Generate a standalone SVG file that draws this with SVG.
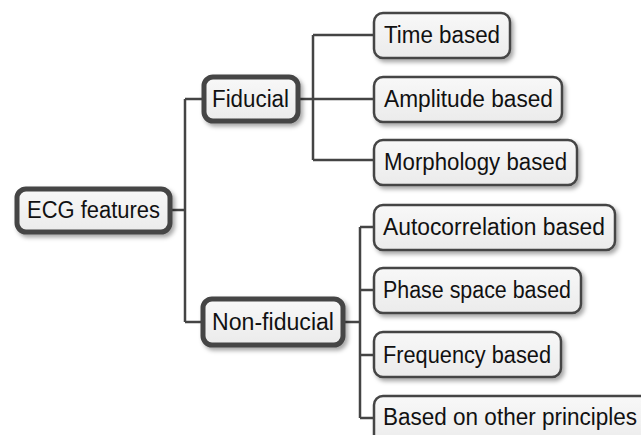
<svg xmlns="http://www.w3.org/2000/svg" width="641" height="435" viewBox="0 0 641 435">
<defs>
<linearGradient id="g" x1="0" y1="0" x2="0" y2="1">
<stop offset="0" stop-color="#f8f8f8"/>
<stop offset="1" stop-color="#ebebeb"/>
</linearGradient>
<filter id="sh" x="-10%" y="-20%" width="130%" height="160%">
<feDropShadow dx="2.5" dy="3" stdDeviation="2" flood-color="#000" flood-opacity="0.35"/>
</filter>
</defs>
<style>
.box{fill:url(#g);stroke:#444;filter:url(#sh)}
.main{stroke-width:5}
.leaf{stroke-width:2.5}
.conn{fill:none;stroke:#444;stroke-width:2.5}
text{font-family:"Liberation Sans",Arial,sans-serif;font-size:23px;fill:#111}
</style>
<g id="connectors" class="conn">
<path d="M172 210H185M185 99V322M185 99H202M185 322H201"/>
<path d="M300 99H373M313 35V160M313 35H373M313 160H373"/>
<path d="M345 322H360M360 227V418M360 227H373M360 290H373M360 355H373M360 418H373"/>
</g>
<g id="ecg"><rect class="box main" x="17" y="189" width="153" height="43" rx="9"/><text x="27" y="218" textLength="133" lengthAdjust="spacingAndGlyphs">ECG features</text></g>
<g id="fiducial"><rect class="box main" x="204" y="77" width="94" height="44" rx="9"/><text x="212" y="107" textLength="77" lengthAdjust="spacingAndGlyphs">Fiducial</text></g>
<g id="nonfiducial"><rect class="box main" x="203" y="299" width="140" height="46" rx="9"/><text x="212" y="330" textLength="122" lengthAdjust="spacingAndGlyphs">Non-fiducial</text></g>
<g id="time"><rect class="box leaf" x="374" y="13" width="136" height="45" rx="9"/><text x="384" y="43" textLength="116" lengthAdjust="spacingAndGlyphs">Time based</text></g>
<g id="amplitude"><rect class="box leaf" x="374" y="77" width="188" height="45" rx="9"/><text x="384" y="107" textLength="169" lengthAdjust="spacingAndGlyphs">Amplitude based</text></g>
<g id="morphology"><rect class="box leaf" x="374" y="140" width="203" height="45" rx="9"/><text x="384" y="170" textLength="183" lengthAdjust="spacingAndGlyphs">Morphology based</text></g>
<g id="autocorrelation"><rect class="box leaf" x="374" y="205" width="241" height="45" rx="9"/><text x="383" y="235" textLength="222" lengthAdjust="spacingAndGlyphs">Autocorrelation based</text></g>
<g id="phase"><rect class="box leaf" x="374" y="268" width="207" height="45" rx="9"/><text x="383" y="298" textLength="188" lengthAdjust="spacingAndGlyphs">Phase space based</text></g>
<g id="frequency"><rect class="box leaf" x="374" y="332" width="187" height="45" rx="9"/><text x="383" y="363" textLength="168" lengthAdjust="spacingAndGlyphs">Frequency based</text></g>
<g id="other"><rect class="box leaf" x="374" y="396" width="280" height="50" rx="9"/><text x="383" y="425" textLength="254" lengthAdjust="spacingAndGlyphs">Based on other principles</text></g>
</svg>
